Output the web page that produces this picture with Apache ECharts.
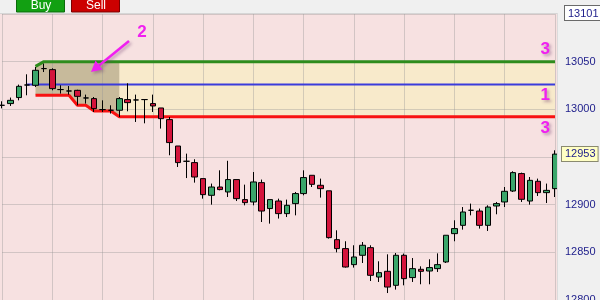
<!DOCTYPE html>
<html>
<head>
<meta charset="utf-8">
<script src="https://cdn.jsdelivr.net/npm/echarts@6/dist/echarts.min.js"></script>
<style>
html,body{margin:0;padding:0;background:#f0f0f0;}
#c{width:600px;height:300px;}
</style>
</head>
<body>
<div id="c"></div>
<script>
// ---- data ----
const categories = ['1','2','3','4','5','6','7','8','9','10','11','12','13','14','15','16','17','18','19','20',
  '21','22','23','24','25','26','27','28','29','30','31','32','33','34','35','36','37','38','39','40',
  '41','42','43','44','45','46','47','48','49','50','51','52','53','54','55','56','57','58','59','60',
  '61','62','63','64','65','66','67'];

const opens = [13004.2,13006.0,13012.3,13025.5,13025.2,13042.7,13041.6,13020.7,13019.2,13019.9,
  13011.9,13011.2,12999.7,12999.0,12999.0,13010.2,13009.8,13010.2,13006.0,13001.4,
  12989.2,12961.5,12945.5,12944.1,12927.3,12909.8,12918.5,12913.3,12926.3,12905.3,
  12902.8,12923.1,12895.9,12903.8,12890.6,12901.1,12911.6,12930.8,12920.3,12914.5,
  12863.3,12853.9,12837.1,12846.9,12854.9,12824.1,12830.1,12815.4,12846.9,12823.5,
  12832.2,12830.4,12832.9,12839.9,12869.6,12878.3,12894.1,12893.3,12878.3,12898.6,
  12902.8,12914.3,12932.6,12903.8,12924.5,12912.6,12916.8];
const closes = [13004.2,13009.4,13024.1,13025.5,13040.9,13042.7,13021.7,13020.7,13019.2,13013.6,
  13011.9,13000.7,12999.7,12999.0,13011.2,13007.0,13009.8,13010.2,13003.5,12990.2,
  12965.1,12944.1,12945.5,12929.0,12910.5,12918.5,12915.8,12926.3,12906.3,12902.1,
  12923.8,12893.3,12905.3,12890.6,12899.3,12911.6,12928.4,12921.3,12916.8,12865.4,
  12853.9,12834.6,12845.1,12857.4,12825.9,12828.7,12813.6,12846.9,12822.4,12832.9,
  12830.1,12834.0,12837.1,12867.9,12874.9,12892.3,12894.1,12878.3,12897.5,12901.1,
  12914.0,12933.6,12905.6,12925.5,12912.6,12915.0,12953.0];
const lows = [13001.0,13003.5,13009.4,13014.7,13023.4,13039.1,13019.9,13016.5,13015.4,13004.2,
  13006.0,12997.2,12997.2,12995.5,12991.9,12997.9,12986.7,12985.3,12997.2,12979.8,
  12951.8,12939.5,12927.9,12923.1,12906.3,12900.0,12915.0,12908.0,12903.8,12899.3,
  12899.3,12881.8,12880.1,12885.4,12887.0,12888.8,12909.8,12918.5,12907.4,12864.4,
  12850.0,12834.0,12834.0,12838.8,12819.9,12818.9,12807.3,12810.9,12815.4,12818.9,
  12816.5,12816.5,12829.4,12838.8,12861.6,12873.8,12888.8,12874.9,12872.4,12889.9,
  12897.5,12913.3,12902.8,12900.0,12909.1,12901.7,12908.0];
const highs = [13008.4,13012.3,13025.9,13036.7,13044.4,13047.9,13043.0,13025.2,13024.4,13020.5,
  13015.4,13012.9,13009.4,13004.2,13012.9,13027.3,13015.4,13010.5,13015.4,13001.4,
  12991.9,12961.5,12953.5,12947.6,12927.3,12922.1,12936.0,12946.0,12926.3,12921.0,
  12934.2,12926.3,12905.3,12906.3,12905.3,12913.3,12936.0,12930.8,12927.3,12914.5,
  12873.1,12861.6,12857.4,12860.8,12857.4,12840.6,12847.9,12849.3,12848.7,12844.0,
  12835.3,12842.7,12848.9,12867.9,12883.6,12897.5,12901.1,12895.9,12899.3,12902.8,
  12918.5,12935.0,12933.6,12929.0,12927.3,12922.1,12957.0];

// band lines ("3" upper, "1" middle, "3" lower)
const greenLine = [null,null,null,null,13045,13050,13050,13050,13050,13050,
  13050,13050,13050,13050,13050,13050,13050,13050,13050,13050,
  13050,13050,13050,13050,13050,13050,13050,13050,13050,13050,
  13050,13050,13050,13050,13050,13050,13050,13050,13050,13050,
  13050,13050,13050,13050,13050,13050,13050,13050,13050,13050,
  13050,13050,13050,13050,13050,13050,13050,13050,13050,13050,
  13050,13050,13050,13050,13050,13050,13050];
const blueLine = [null,null,null,13026,13026,13026,13026,13026,13026,13026,
  13026,13026,13026,13026,13026,13026,13026,13026,13026,13026,
  13026,13026,13026,13026,13026,13026,13026,13026,13026,13026,
  13026,13026,13026,13026,13026,13026,13026,13026,13026,13026,
  13026,13026,13026,13026,13026,13026,13026,13026,13026,13026,
  13026,13026,13026,13026,13026,13026,13026,13026,13026,13026,
  13026,13026,13026,13026,13026,13026,13026];
const redLine = [null,null,null,null,13014.7,13014.7,13014.7,13014.7,13014.7,13004.2,
  13004.2,12998.2,12998.2,12998.2,12992.1,12992.1,12992.1,12992.1,12992.1,12992.1,
  12992.1,12992.1,12992.1,12992.1,12992.1,12992.1,12992.1,12992.1,12992.1,12992.1,
  12992.1,12992.1,12992.1,12992.1,12992.1,12992.1,12992.1,12992.1,12992.1,12992.1,
  12992.1,12992.1,12992.1,12992.1,12992.1,12992.1,12992.1,12992.1,12992.1,12992.1,
  12992.1,12992.1,12992.1,12992.1,12992.1,12992.1,12992.1,12992.1,12992.1,12992.1,
  12992.1,12992.1,12992.1,12992.1,12992.1,12992.1,12992.1];
const shadeFrom = 4, shadeTo = 14;   // candle range of the dark box

const yMin = 12800, yMax = 13101, yStep = 50;

// ---- derived ----
const candleData = categories.map((_, i) => [opens[i], closes[i], lows[i], highs[i]]);
const bandBase = redLine.map((r, i) => (r == null || greenLine[i] == null) ? null : r);
const bandSpan = redLine.map((r, i) => (r == null || greenLine[i] == null) ? null : +(greenLine[i] - r).toFixed(2));
const shadeBase = bandBase.map((v, i) => (i >= shadeFrom && i <= shadeTo) ? v : null);
const shadeSpan = bandSpan.map((v, i) => (i >= shadeFrom && i <= shadeTo) ? v : null);
const lastClose = closes[closes.length - 1];
const lastOf = a => a[a.length - 1];

const annStyle = {
  color: '#f020f0', fontSize: 17, fontWeight: 'bold', fontFamily: 'Liberation Sans, Arial',
  textShadowColor: 'rgba(110,60,110,0.45)', textShadowBlur: 3, textShadowOffsetX: 2, textShadowOffsetY: 2
};
const hiddenLine = {color: 'rgba(0,0,0,0)', width: 0, type: 'solid'};

const chart = echarts.init(document.getElementById('c'), null, {renderer: 'canvas'});
chart.setOption({
  animation: false,
  backgroundColor: '#f0f0f0',
  grid: {left: 2, right: 45, top: 13, bottom: 0, containLabel: false, outerBoundsMode: 'none'},
  xAxis: {
    type: 'category', data: categories, boundaryGap: false,
    axisLine: {show: false}, axisTick: {show: false}, axisLabel: {show: false},
    splitLine: {show: true, interval: 5, lineStyle: {color: 'rgba(150,150,150,0.38)', width: 1}}
  },
  yAxis: {
    type: 'value', position: 'right', min: yMin, max: yMax, interval: yStep,
    axisLine: {show: false}, axisTick: {show: false},
    splitLine: {show: true, lineStyle: {color: 'rgba(150,150,150,0.38)', width: 1}},
    axisLabel: {
      margin: 10, color: '#1c1c8a', fontSize: 11, fontFamily: 'Liberation Sans, Arial',
      formatter: v => v === yMax ? '{box|' + v + '}' : (v > yMax - yStep ? '' : String(v)),
      rich: {box: {color: '#1c1c8a', fontSize: 11, fontFamily: 'Liberation Sans, Arial',
        backgroundColor: '#ffffff', borderColor: '#6a6a6a', borderWidth: 1, padding: [2, 2, 1, 3]}}
    }
  },
  series: [
    {type: 'line', data: bandBase, stack: 'band', showSymbol: false, silent: true, z: -5,
     lineStyle: {opacity: 0}},
    {type: 'line', data: bandSpan, stack: 'band', showSymbol: false, silent: true, z: -5,
     lineStyle: {opacity: 0}, areaStyle: {color: '#f8eacb', opacity: 1}},
    {type: 'line', data: shadeBase, stack: 'shade', showSymbol: false, silent: true, z: -4,
     lineStyle: {opacity: 0}},
    {type: 'line', data: shadeSpan, stack: 'shade', showSymbol: false, silent: true, z: -4,
     lineStyle: {opacity: 0}, areaStyle: {color: '#c7ba9b', opacity: 1}},
    {type: 'line', data: greenLine, showSymbol: false, silent: true, z: 3,
     lineStyle: {color: '#2e8c1c', width: 3},
     markLine: {silent: true, symbol: 'none', lineStyle: hiddenLine,
       data: [{yAxis: lastOf(greenLine)}],
       label: Object.assign({show: true, position: 'insideEndTop', distance: [5, 4], formatter: '3'}, annStyle)}},
    {type: 'line', data: blueLine, showSymbol: false, silent: true, z: 3,
     lineStyle: {color: '#3b3bdc', width: 2},
     markLine: {silent: true, symbol: 'none', lineStyle: hiddenLine,
       data: [{yAxis: lastOf(blueLine)}],
       label: Object.assign({show: true, position: 'insideEndBottom', distance: [5, 2], formatter: '1'}, annStyle)}},
    {type: 'line', data: redLine, showSymbol: false, silent: true, z: 3,
     lineStyle: {color: '#f81212', width: 3},
     markLine: {silent: true, symbol: 'none', lineStyle: hiddenLine,
       data: [{yAxis: lastOf(redLine)}],
       label: Object.assign({show: true, position: 'insideEndBottom', distance: [5, 3], formatter: '3'}, annStyle)}},
    {type: 'candlestick', data: candleData, barWidth: 6, z: 4,
     itemStyle: {color: '#3aa66a', color0: '#d4143c', borderColor: '#000', borderColor0: '#000',
       borderColorDoji: '#000', borderWidth: 1},
     markLine: {silent: true, symbol: 'none', lineStyle: hiddenLine,
       data: [{yAxis: lastClose}],
       label: {show: true, position: 'end', distance: 7, formatter: () => String(Math.round(lastClose)),
         color: '#1c1c8a', fontSize: 11, fontFamily: 'Liberation Sans, Arial',
         backgroundColor: '#ffffc4', borderColor: '#8a8a70', borderWidth: 1, padding: [2, 2, 1, 3]}}}
  ],
  graphic: [
    {type: 'rect', z: -100, silent: true, shape: {x: 0, y: 13, width: 557, height: 287}, style: {fill: '#f7e1e1'}},
    {type: 'line', z: 50, silent: true, shape: {x1: 0, y1: 13.5, x2: 557, y2: 13.5}, style: {stroke: '#d6d6d6', lineWidth: 1}},
    {type: 'line', z: 50, silent: true, shape: {x1: 557.5, y1: 13, x2: 557.5, y2: 300}, style: {stroke: '#dcdcdc', lineWidth: 1}},
    // buttons
    {type: 'rect', z: 50, silent: true, shape: {x: 16.5, y: -1, width: 48, height: 13}, style: {fill: '#12a012', stroke: '#0a6a0a', lineWidth: 1}},
    {type: 'text', z: 51, silent: true, x: 41, y: 6, style: {text: 'Buy', fill: '#ffffff', font: '12px "Liberation Sans", Arial', align: 'center', verticalAlign: 'middle'}},
    {type: 'rect', z: 50, silent: true, shape: {x: 71.5, y: -1, width: 48, height: 13}, style: {fill: '#cc0000', stroke: '#7a0000', lineWidth: 1}},
    {type: 'text', z: 51, silent: true, x: 96, y: 6, style: {text: 'Sell', fill: '#ffffff', font: '12px "Liberation Sans", Arial', align: 'center', verticalAlign: 'middle'}},
    // annotation "2" with arrow
    {type: 'line', z: 50, silent: true, shape: {x1: 129, y1: 41, x2: 99, y2: 65.5},
     style: {stroke: '#f020f0', lineWidth: 2.5, shadowColor: 'rgba(110,60,110,0.4)', shadowBlur: 3, shadowOffsetX: 2, shadowOffsetY: 2}},
    {type: 'polygon', z: 50, silent: true, shape: {points: [[91, 72], [102.5, 69.5], [95.5, 60.5]]},
     style: {fill: '#f020f0', shadowColor: 'rgba(110,60,110,0.4)', shadowBlur: 3, shadowOffsetX: 2, shadowOffsetY: 2}},
    {type: 'text', z: 50, silent: true, x: 142, y: 32,
     style: {text: '2', fill: '#f020f0', font: 'bold 17px "Liberation Sans", Arial', align: 'center', verticalAlign: 'middle',
       shadowColor: 'rgba(110,60,110,0.45)', shadowBlur: 3, shadowOffsetX: 2, shadowOffsetY: 2}}
  ]
});
</script>
</body>
</html>
